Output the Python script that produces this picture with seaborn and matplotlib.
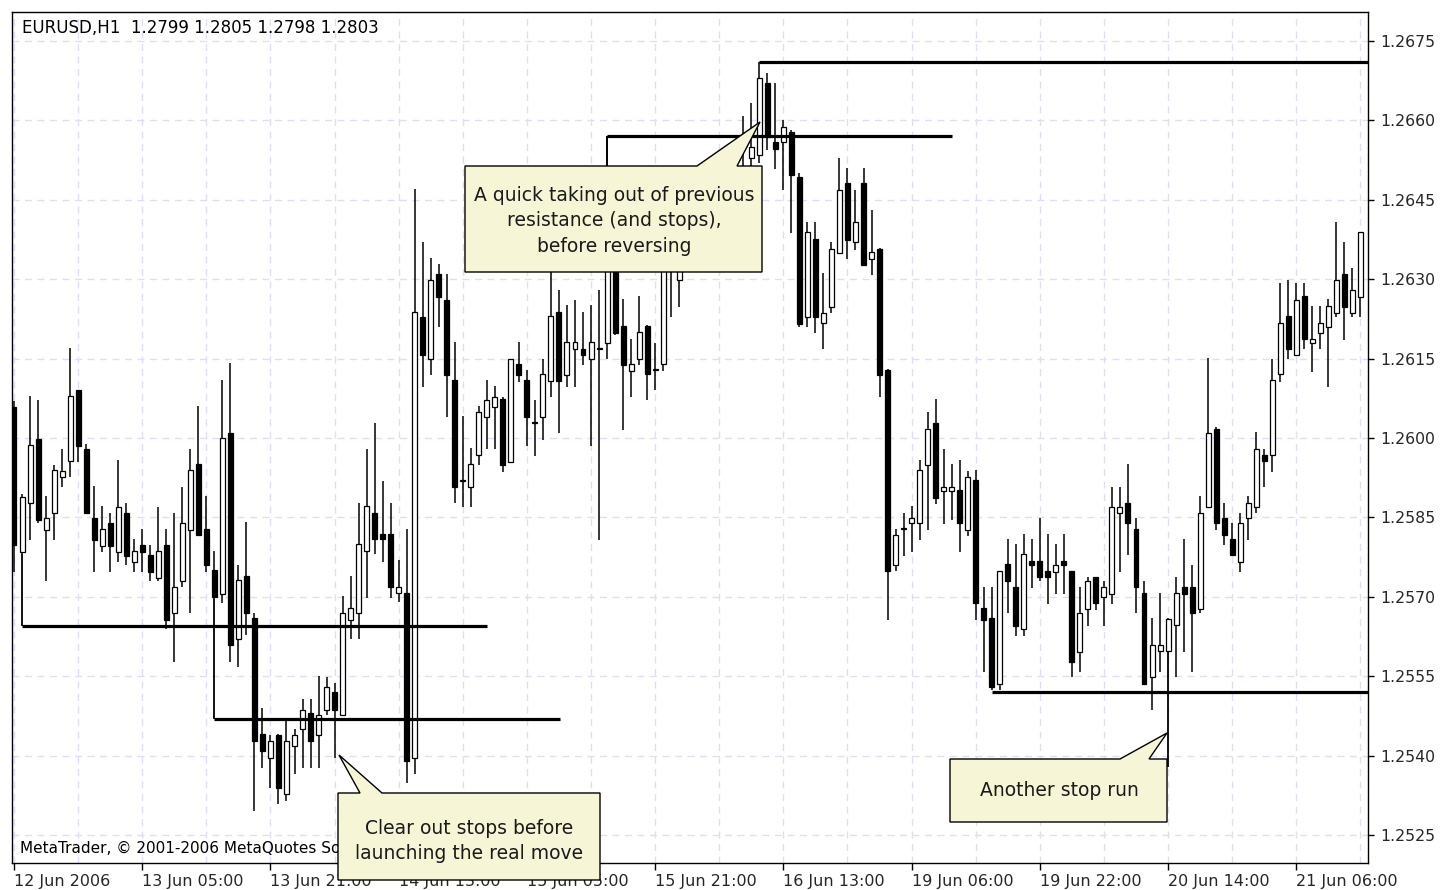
import numpy as np
import pandas as pd
import seaborn as sns
import matplotlib.pyplot as plt
from matplotlib.patches import Polygon

# EURUSD H1 candles
open_ = [
    1.26059, 1.25785, 1.25877, 1.25999, 1.25827, 1.25858, 1.25927, 1.25957, 1.26091, 1.25980,
    1.25848, 1.25796, 1.25840, 1.25785, 1.25859, 1.25766, 1.25798, 1.25779, 1.25735, 1.25798,
    1.25669, 1.25729, 1.25827, 1.25950, 1.25829, 1.25750, 1.25706, 1.26010, 1.25620, 1.25740,
    1.25659, 1.25440, 1.25396, 1.25439, 1.25327, 1.25419, 1.25450, 1.25481, 1.25439, 1.25487,
    1.25520, 1.25477, 1.25656, 1.25669, 1.25786, 1.25859, 1.25818, 1.25818, 1.25707, 1.25707,
    1.25396, 1.26229, 1.26150, 1.26310, 1.26261, 1.26110, 1.25918, 1.25907, 1.25968, 1.26040,
    1.26059, 1.26073, 1.25955, 1.26140, 1.26110, 1.26029, 1.26039, 1.26108, 1.26239, 1.26119,
    1.26168, 1.26169, 1.26149, 1.26169, 1.26180, 1.26400, 1.26212, 1.26127, 1.26150, 1.26212,
    1.26129, 1.26140, 1.26340, 1.26299, 1.26380, 1.26410, 1.26370, 1.26430, 1.26400, 1.26450,
    1.26470, 1.26490, 1.26529, 1.26535, 1.26670, 1.26560, 1.26560, 1.26579, 1.26494, 1.26229,
    1.26377, 1.26218, 1.26248, 1.26350, 1.26481, 1.26371, 1.26481, 1.26339, 1.26358, 1.26128,
    1.25760, 1.25829, 1.25839, 1.25839, 1.25949, 1.26029, 1.25899, 1.25899, 1.25902, 1.25827,
    1.25921, 1.25678, 1.25659, 1.25536, 1.25762, 1.25719, 1.25639, 1.25768, 1.25768, 1.25749,
    1.25747, 1.25768, 1.25749, 1.25596, 1.25676, 1.25738, 1.25699, 1.25706, 1.25858, 1.25878,
    1.25829, 1.25708, 1.25549, 1.25598, 1.25597, 1.25647, 1.25718, 1.25718, 1.25676, 1.25870,
    1.26018, 1.25848, 1.25810, 1.25766, 1.25848, 1.25870, 1.25968, 1.25968, 1.26121, 1.26230,
    1.26157, 1.26268, 1.26180, 1.26199, 1.26210, 1.26237, 1.26310, 1.26237, 1.26267,
]
high = [
    1.26070, 1.25895, 1.26079, 1.26072, 1.25890, 1.25949, 1.25980, 1.26171, 1.26091, 1.25989,
    1.25909, 1.25871, 1.25859, 1.25958, 1.25878, 1.25810, 1.25829, 1.25798, 1.25870, 1.25829,
    1.25859, 1.25908, 1.25980, 1.26060, 1.25890, 1.25787, 1.26110, 1.26141, 1.25760, 1.25841,
    1.25670, 1.25489, 1.25439, 1.25440, 1.25466, 1.25450, 1.25507, 1.25507, 1.25551, 1.25548,
    1.25537, 1.25701, 1.25740, 1.25878, 1.25980, 1.26029, 1.25918, 1.25878, 1.25769, 1.25828,
    1.26470, 1.26370, 1.26340, 1.26329, 1.26310, 1.26182, 1.26042, 1.25982, 1.26060, 1.26110,
    1.26098, 1.26078, 1.26150, 1.26182, 1.26129, 1.26072, 1.26150, 1.26320, 1.26280, 1.26251,
    1.26261, 1.26239, 1.26251, 1.26280, 1.26571, 1.26450, 1.26262, 1.26188, 1.26268, 1.26213,
    1.26180, 1.26380, 1.26400, 1.26410, 1.26440, 1.26450, 1.26460, 1.26470, 1.26480, 1.26500,
    1.26510, 1.26608, 1.26633, 1.26711, 1.26689, 1.26670, 1.26601, 1.26582, 1.26500, 1.26409,
    1.26409, 1.26311, 1.26371, 1.26530, 1.26511, 1.26469, 1.26511, 1.26431, 1.26360, 1.26130,
    1.25829, 1.25859, 1.25872, 1.25959, 1.26050, 1.26073, 1.25980, 1.25951, 1.25959, 1.25938,
    1.25940, 1.25719, 1.25719, 1.25749, 1.25810, 1.25800, 1.25819, 1.25810, 1.25848, 1.25819,
    1.25800, 1.25819, 1.25749, 1.25719, 1.25738, 1.25738, 1.25730, 1.25908, 1.25908, 1.25951,
    1.25848, 1.25730, 1.25659, 1.25708, 1.25660, 1.25738, 1.25810, 1.25760, 1.25890, 1.26152,
    1.26020, 1.25878, 1.25840, 1.25859, 1.25890, 1.26012, 1.25980, 1.26150, 1.26292, 1.26299,
    1.26292, 1.26292, 1.26250, 1.26250, 1.26262, 1.26409, 1.26371, 1.26322, 1.26390,
]
low = [
    1.25747, 1.25780, 1.25807, 1.25839, 1.25729, 1.25807, 1.25908, 1.25927, 1.25955, 1.25856,
    1.25747, 1.25785, 1.25747, 1.25766, 1.25760, 1.25747, 1.25747, 1.25729, 1.25729, 1.25639,
    1.25577, 1.25719, 1.25669, 1.25815, 1.25747, 1.25695, 1.25689, 1.25577, 1.25567, 1.25628,
    1.25296, 1.25377, 1.25339, 1.25308, 1.25315, 1.25365, 1.25377, 1.25377, 1.25377, 1.25477,
    1.25396, 1.25476, 1.25620, 1.25620, 1.25697, 1.25780, 1.25766, 1.25697, 1.25690, 1.25348,
    1.25365, 1.26096, 1.26119, 1.26210, 1.26039, 1.25877, 1.25869, 1.25869, 1.25949, 1.25979,
    1.25979, 1.25936, 1.25955, 1.26106, 1.25985, 1.25966, 1.25997, 1.26077, 1.26009, 1.26097,
    1.26097, 1.26138, 1.25985, 1.25807, 1.26150, 1.26195, 1.26016, 1.26077, 1.26138, 1.26071,
    1.26090, 1.26127, 1.26229, 1.26248, 1.26350, 1.26340, 1.26350, 1.26370, 1.26380, 1.26420,
    1.26440, 1.26460, 1.26500, 1.26520, 1.26544, 1.26509, 1.26468, 1.26387, 1.26210, 1.26210,
    1.26198, 1.26168, 1.26237, 1.26349, 1.26338, 1.26356, 1.26325, 1.26308, 1.26077, 1.25656,
    1.25748, 1.25777, 1.25785, 1.25807, 1.25827, 1.25875, 1.25838, 1.25845, 1.25785, 1.25815,
    1.25656, 1.25558, 1.25524, 1.25524, 1.25669, 1.25626, 1.25626, 1.25716, 1.25729, 1.25686,
    1.25706, 1.25706, 1.25548, 1.25558, 1.25645, 1.25675, 1.25645, 1.25686, 1.25747, 1.25779,
    1.25669, 1.25535, 1.25486, 1.25558, 1.25597, 1.25549, 1.25596, 1.25558, 1.25669, 1.25869,
    1.25826, 1.25798, 1.25777, 1.25747, 1.25808, 1.25858, 1.25907, 1.25936, 1.26106, 1.26149,
    1.26156, 1.26169, 1.26125, 1.26169, 1.26096, 1.26229, 1.26186, 1.26229, 1.26229,
]
close = [
    1.25798, 1.25889, 1.25987, 1.25845, 1.25848, 1.25940, 1.25938, 1.26079, 1.25985, 1.25858,
    1.25807, 1.25828, 1.25796, 1.25870, 1.25777, 1.25787, 1.25785, 1.25747, 1.25787, 1.25656,
    1.25719, 1.25840, 1.25940, 1.25817, 1.25760, 1.25700, 1.26000, 1.25608, 1.25731, 1.25670,
    1.25427, 1.25408, 1.25427, 1.25339, 1.25427, 1.25439, 1.25487, 1.25427, 1.25477, 1.25530,
    1.25487, 1.25669, 1.25678, 1.25799, 1.25871, 1.25809, 1.25809, 1.25718, 1.25718, 1.25389,
    1.26239, 1.26156, 1.26298, 1.26267, 1.26119, 1.25907, 1.25920, 1.25951, 1.26050, 1.26072,
    1.26078, 1.25949, 1.26150, 1.26119, 1.26039, 1.26030, 1.26121, 1.26231, 1.26108, 1.26182,
    1.26182, 1.26157, 1.26182, 1.26170, 1.26400, 1.26199, 1.26138, 1.26140, 1.26201, 1.26121,
    1.26130, 1.26340, 1.26360, 1.26380, 1.26410, 1.26370, 1.26430, 1.26400, 1.26450, 1.26470,
    1.26490, 1.26510, 1.26550, 1.26681, 1.26569, 1.26547, 1.26588, 1.26497, 1.26215, 1.26390,
    1.26229, 1.26237, 1.26358, 1.26469, 1.26375, 1.26409, 1.26327, 1.26352, 1.26119, 1.25748,
    1.25817, 1.25830, 1.25848, 1.25940, 1.26018, 1.25886, 1.25908, 1.25908, 1.25839, 1.25927,
    1.25688, 1.25657, 1.25529, 1.25749, 1.25729, 1.25645, 1.25781, 1.25760, 1.25737, 1.25737,
    1.25760, 1.25760, 1.25577, 1.25670, 1.25730, 1.25688, 1.25719, 1.25870, 1.25870, 1.25839,
    1.25718, 1.25536, 1.25609, 1.25609, 1.25658, 1.25708, 1.25706, 1.25669, 1.25859, 1.26010,
    1.25840, 1.25817, 1.25779, 1.25840, 1.25878, 1.25980, 1.25957, 1.26109, 1.26218, 1.26169,
    1.26261, 1.26188, 1.26188, 1.26218, 1.26249, 1.26298, 1.26248, 1.26280, 1.26390,
]

price_ticks = [1.2525, 1.2540, 1.2555, 1.2570, 1.2585, 1.2600, 1.2615,
               1.2630, 1.2645, 1.2660, 1.2675]
time_labels = ["12 Jun 2006", "13 Jun 05:00", "13 Jun 21:00", "14 Jun 13:00",
               "15 Jun 05:00", "15 Jun 21:00", "16 Jun 13:00", "19 Jun 06:00",
               "19 Jun 22:00", "20 Jun 14:00", "21 Jun 06:00"]

# drawn support / resistance levels: price, first bar, last bar
level_price = [1.25644, 1.25470, 1.26570, 1.26711, 1.25520]
level_start = [1, 25, 74, 93, 122]
level_end = [59.0, 68.1, 117.0, 170, 170]
# vertical connectors: bar, from price, to price
link_bar = [1, 25, 74, 144]
link_from = [1.25780, 1.25695, 1.26400, 1.25597]
link_to = [1.25644, 1.25470, 1.26570, 1.25378]

header = "EURUSD,H1  1.2799 1.2805 1.2798 1.2803"
copyright_text = "MetaTrader, \u00a9 2001-2006 MetaQuotes Software Corp."
note_a = "A quick taking out of previous\nresistance (and stops),\nbefore reversing"
note_b = "Clear out stops before\nlaunching the real move"
note_c = "Another stop run"

df = pd.DataFrame({"open": open_, "high": high, "low": low, "close": close})
df["bar"] = np.arange(len(df))
df["up"] = df["close"] >= df["open"]
df["body_lo"] = df[["open", "close"]].min(axis=1)
df["body_h"] = (df["close"] - df["open"]).abs().clip(lower=0.000012)

sns.set_theme(style="white")
plt.rcParams["font.family"] = ["DejaVu Sans"]

W, H = 1450, 890
fig = plt.figure(figsize=(W / 100, H / 100), dpi=100)
fig.patch.set_facecolor("white")
ax = fig.add_axes([12 / W, 1 - 863 / H, (1368 - 12) / W, (863 - 12) / H])
ax.set_facecolor("white")

# wicks and bodies
ax.vlines(df["bar"], df["low"], df["high"], color="black", lw=1.1, zorder=3)
ax.bar(df["bar"], df["body_h"], bottom=df["body_lo"], width=0.62,
       color=np.where(df["up"], "white", "black"), edgecolor="black",
       linewidth=0.9, zorder=4)

# levels drawn on the chart
ax.hlines(level_price, level_start, level_end, color="black", lw=2.3, zorder=5)
ax.vlines(link_bar, link_from, link_to, color="black", lw=1.3, zorder=5)

ax.set_xlim(-0.25, 168.95)
ax.set_ylim(1.25197, 1.26805)

ax.set_xticks(np.arange(0, 169, 16))
ax.set_xticklabels(time_labels, ha="left")
ax.set_xticks(np.arange(0, 169, 8), minor=True)
ax.yaxis.tick_right()
ax.set_yticks(price_ticks)
ax.set_yticklabels([f"{p:.4f}" for p in price_ticks])
ax.tick_params(axis="x", which="major", length=5, width=1, color="black",
               labelsize=11.5, pad=3, bottom=True)
ax.tick_params(axis="x", which="minor", length=0)
ax.tick_params(axis="y", length=4, width=1, color="black", labelsize=11.3,
               pad=5, right=True)
ax.grid(True, which="both", axis="x", color="#dedef6", lw=1, ls=(0, (5, 4)))
ax.grid(True, which="major", axis="y", color="#dedef6", lw=1, ls=(0, (5, 4)))
ax.set_axisbelow(True)
for sp in ax.spines.values():
    sp.set_color("black")
    sp.set_linewidth(1.0)
ax.set_xlabel("")
ax.set_ylabel("")

ax.text(10 / 1356, 1 - 16 / 851, header, transform=ax.transAxes,
        ha="left", va="center", fontsize=12, color="black", zorder=6)
ax.text(8 / 1356, 1 - 836 / 851, copyright_text, transform=ax.transAxes,
        ha="left", va="center", fontsize=11, color="black", zorder=6)


def px(x, y):
    return (x / W, 1 - y / H)


def callout(pts, text, cx, cy, spacing):
    poly = Polygon([px(x, y) for x, y in pts], closed=True, transform=fig.transFigure,
                   facecolor="#f6f5d6", edgecolor="black", lw=1.0, zorder=10)
    fig.patches.append(poly)
    fig.text(*px(cx, cy), text, ha="center", va="center", fontsize=13.5,
             color="#1a1a1a", linespacing=spacing, zorder=11)


callout([(465, 166), (697, 166), (760, 122), (737, 166), (762, 166), (762, 272), (465, 272)],
        note_a, 614, 221, 1.45)
callout([(338, 793), (360, 793), (339, 755), (382, 793), (600, 793), (600, 880), (338, 880)],
        note_b, 469, 841, 1.45)
callout([(950, 759), (1120, 759), (1167, 733), (1149, 759), (1167, 759), (1167, 822), (950, 822)],
        note_c, 1059, 791, 1.45)

fig.savefig("out.png", dpi=100)
